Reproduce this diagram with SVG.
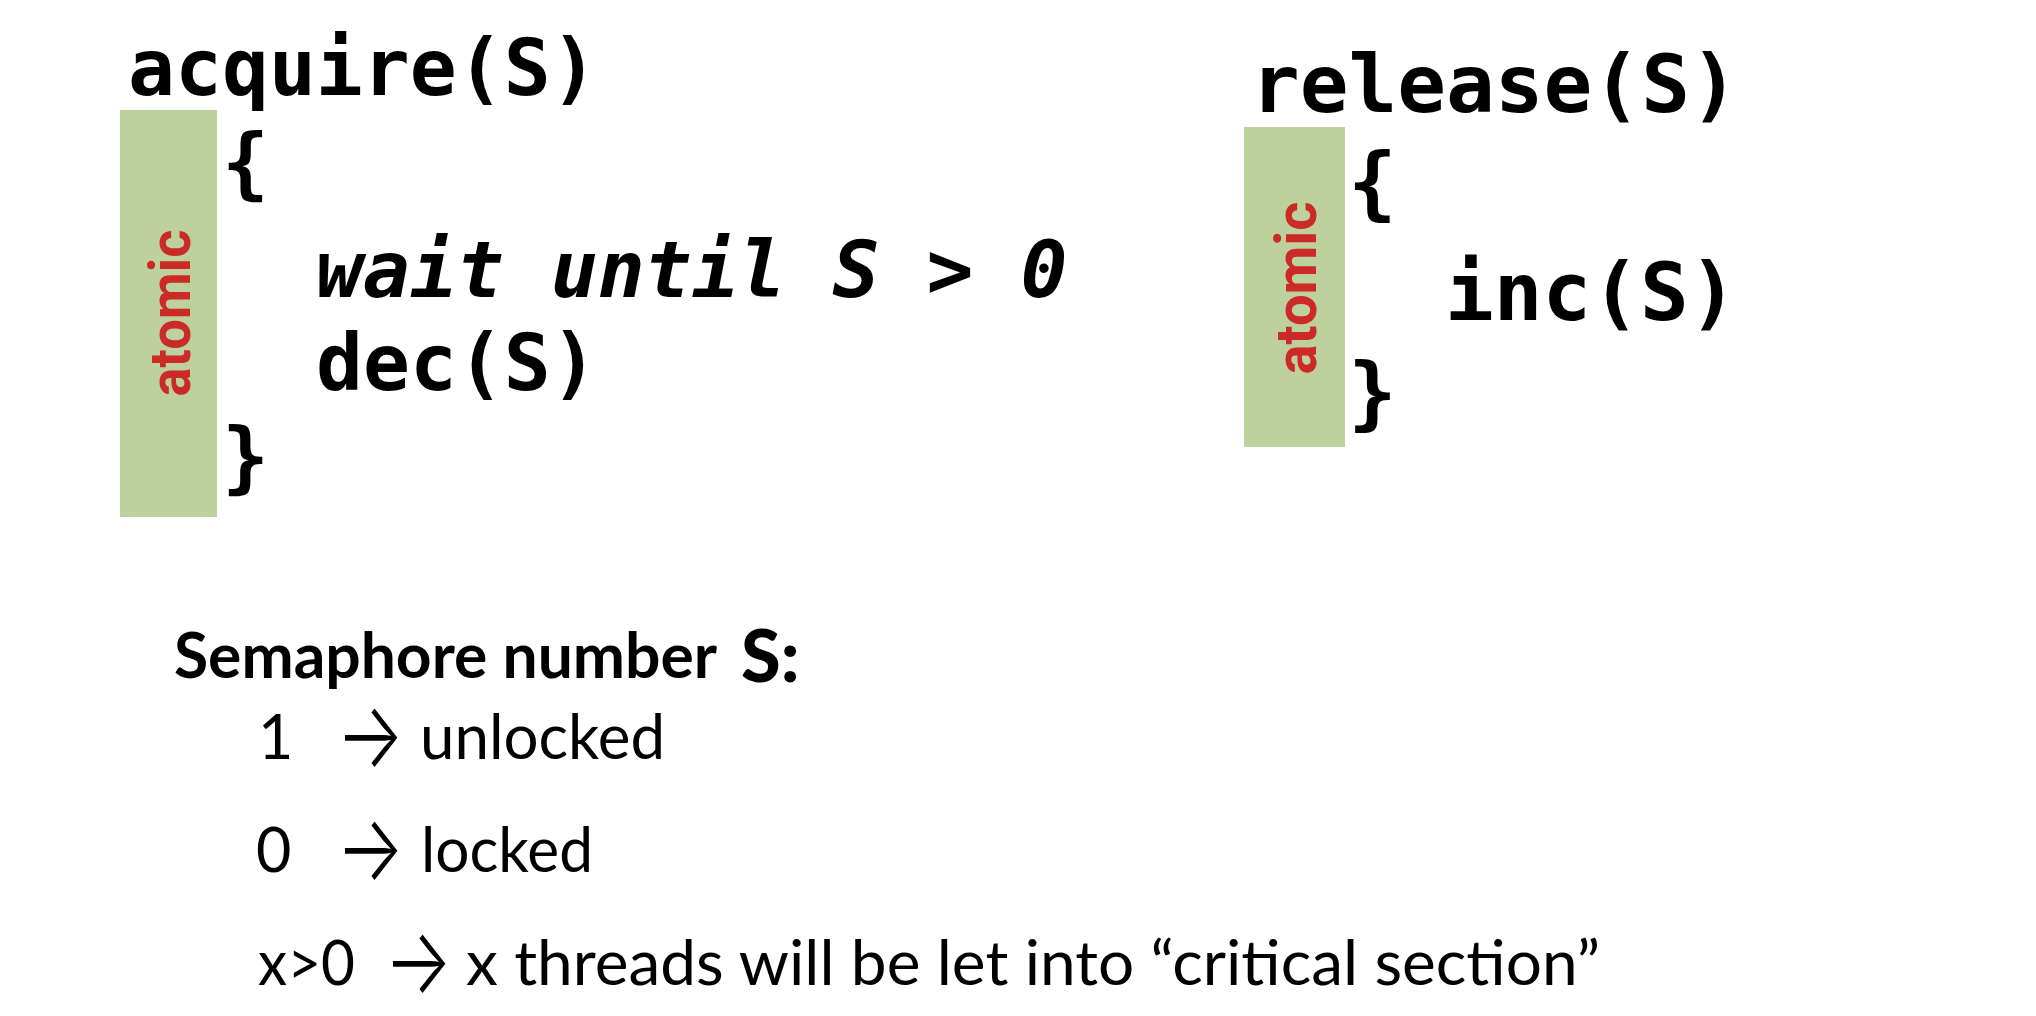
<svg xmlns="http://www.w3.org/2000/svg" width="2036" height="1016" viewBox="0 0 2036 1016">
<style>
.code{font-family:"DejaVu Sans Mono","Liberation Mono",monospace;font-weight:bold;fill:#000}
.it{font-style:italic}
.bar{fill:#BCD19D}
.atomic{font-family:Roboto,"Liberation Sans",sans-serif;font-weight:bold;fill:#CC2A27;font-size:58px}
.body{font-family:Lato,"Liberation Sans",sans-serif;fill:#000;font-size:61px}
.bold{font-weight:bold}
.heavy{font-weight:900}
.arrow{font-family:Inter,"Noto Sans","DejaVu Sans",sans-serif;font-size:92px;font-weight:300}
</style>
<rect width="2036" height="1016" fill="#fff"/>
<g id="acquire">
  <rect class="bar" x="120" y="110" width="97" height="407"/>
  <text class="atomic" transform="translate(190,313) rotate(-90)" text-anchor="middle" textLength="167" lengthAdjust="spacingAndGlyphs">atomic</text>
  <g class="code" font-size="78">
    <text x="128" y="95">acquire(S)</text>
    <text x="222" y="190">{</text>
    <text class="it" x="316" y="297">wait until S &gt; 0</text>
    <text x="316" y="390">dec(S)</text>
    <text x="222" y="484">}</text>
  </g>
</g>
<g id="release">
  <rect class="bar" x="1244" y="127" width="101" height="320"/>
  <text class="atomic" transform="translate(1316,288) rotate(-90)" text-anchor="middle" textLength="173" lengthAdjust="spacingAndGlyphs">atomic</text>
  <g class="code" font-size="81">
    <text x="1251" y="112">release(S)</text>
    <text x="1348" y="210">{</text>
    <text x="1445" y="320">inc(S)</text>
    <text x="1348" y="420">}</text>
  </g>
</g>
<g id="legend" class="body">
  <text class="bold" x="174" y="678" font-size="63" textLength="543" lengthAdjust="spacingAndGlyphs">Semaphore number</text>
  <text class="heavy" x="741" y="682" font-size="72">S:</text>
  <text x="258" y="759">1</text>
  <text class="arrow" transform="translate(336,767) scale(0.78,1)">→</text>
  <text x="420" y="759" textLength="245" lengthAdjust="spacingAndGlyphs">unlocked</text>
  <text x="256" y="872">0</text>
  <text class="arrow" transform="translate(336,880) scale(0.78,1)">→</text>
  <text x="421" y="872" textLength="172" lengthAdjust="spacingAndGlyphs">locked</text>
  <text x="258" y="985" textLength="97" lengthAdjust="spacingAndGlyphs">x&gt;0</text>
  <text class="arrow" transform="translate(384,993) scale(0.78,1)">→</text>
  <text x="466" y="985" textLength="1134" lengthAdjust="spacingAndGlyphs">x threads will be let into “critical section”</text>
</g>
<g id="connectors"/>
</svg>
